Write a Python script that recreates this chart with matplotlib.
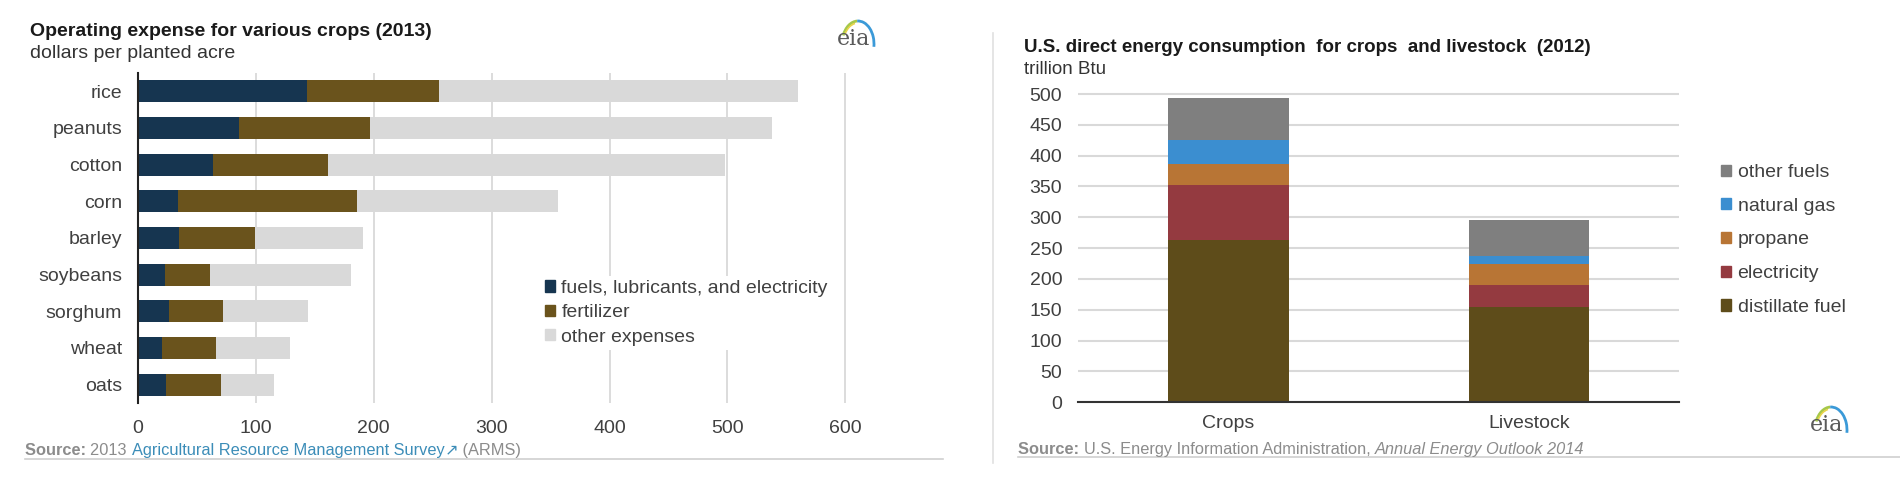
# EIA: operating expense por cultivo y consumo directo de energía

import numpy as np
import matplotlib
matplotlib.use('Agg')
import matplotlib.pyplot as plt
from matplotlib.patches import Patch, Arc
from matplotlib.lines import Line2D

plt.rcParams['font.family'] = ['Liberation Sans', 'DejaVu Sans']

# Datos panel izquierdo (dólares por acre sembrado, 2013)
crops = ['rice', 'peanuts', 'cotton', 'corn', 'barley', 'soybeans', 'sorghum', 'wheat', 'oats']
fuels = [143, 86, 64, 34, 35, 23, 26, 20, 24]
fertilizer = [112, 111, 97, 152, 64, 38, 46, 46, 46]
other_exp = [305, 341, 337, 170, 92, 120, 72, 63, 45]
left_series = ['fuels, lubricants, and electricity', 'fertilizer', 'other expenses']
x_ticks = [0, 100, 200, 300, 400, 500, 600]

# Datos panel derecho (trillion Btu, 2012)
sectors = ['Crops', 'Livestock']
distillate = [263, 154]
electricity = [90, 37]
propane = [33, 34]
natural_gas = [40, 12]
other_fuels = [68, 58]
right_series = ['distillate fuel', 'electricity', 'propane', 'natural gas', 'other fuels']
y_ticks = [0, 50, 100, 150, 200, 250, 300, 350, 400, 450, 500]

W, H = 1900, 498
fig = plt.figure(figsize=(19, 4.98), dpi=100)
fig.patch.set_facecolor('white')

def fx(x):
    return x / W

def fy(y):
    return 1 - y / H

txt = '#404040'
fs = 14

# ---------------- panel izquierdo ----------------
ax1 = fig.add_axes([fx(138), fy(403), 707.3 * 605 / 600 / W, 330 / H])
c_left = ['#163550', '#6a531c', '#d9d9d9']
ypos = np.arange(len(crops))
left = np.zeros(len(crops))
for vals, col, lab in zip([fuels, fertilizer, other_exp], c_left, left_series):
    ax1.barh(ypos, vals, left=left, height=0.6, color=col, label=lab, zorder=2)
    left = left + np.array(vals)
ax1.set_xlim(0, 605)
ax1.set_ylim(len(crops) - 0.5, -0.5)
ax1.set_yticks(ypos)
ax1.set_yticklabels(crops)
ax1.set_xticks(x_ticks)
ax1.grid(axis='x', color='#d9d9d9', lw=1.3, zorder=0)
ax1.tick_params(length=0, labelsize=fs, colors=txt)
ax1.tick_params(axis='y', pad=11.5)
ax1.tick_params(axis='x', pad=12)
for s in ['top', 'right', 'bottom']:
    ax1.spines[s].set_visible(False)
ax1.spines['left'].set_color('#222222')
ax1.spines['left'].set_linewidth(1.5)
h1 = [Patch(color=c) for c in c_left]
leg1 = ax1.legend(h1, left_series, loc='upper left', bbox_to_anchor=(fx(541), fy(276)),
                  bbox_transform=fig.transFigure, frameon=True, fontsize=fs,
                  handlelength=0.5, handleheight=0.5, handletextpad=0.35,
                  labelspacing=0.38, borderpad=0.2, borderaxespad=0)
leg1.get_frame().set_edgecolor('none')
leg1.get_frame().set_facecolor('white')
leg1.get_frame().set_alpha(1)
for t in leg1.get_texts():
    t.set_color(txt)

fig.text(fx(30), fy(31), 'Operating expense for various crops (2013)', fontsize=14,
         fontweight='bold', color='#1a1a1a', va='center')
fig.text(fx(30), fy(54), 'dollars per planted acre', fontsize=14, color='#333333', va='center')

# ---------------- panel derecho ----------------
ax2 = fig.add_axes([fx(1078.3), fy(402.3), 601 / W, 308.3 * 505 / 500 / H])
c_right = ['#5e4c1a', '#943a40', '#b87535', '#3b8ed0', '#7f7f7f']
xpos = np.arange(len(sectors))
bottom = np.zeros(len(sectors))
for vals, col, lab in zip([distillate, electricity, propane, natural_gas, other_fuels], c_right, right_series):
    ax2.bar(xpos, vals, bottom=bottom, width=0.4, color=col, label=lab, zorder=2)
    bottom = bottom + np.array(vals)
ax2.set_xlim(-0.5, 1.5)
ax2.set_ylim(0, 505)
ax2.set_yticks(y_ticks)
ax2.set_xticks(xpos)
ax2.set_xticklabels(sectors)
ax2.grid(axis='y', color='#d9d9d9', lw=1.5, zorder=0)
ax2.tick_params(length=0, labelsize=fs, colors=txt)
ax2.tick_params(axis='y', pad=11.5)
ax2.tick_params(axis='x', pad=9)
for s in ['top', 'right', 'left']:
    ax2.spines[s].set_visible(False)
ax2.spines['bottom'].set_color('#333333')
ax2.spines['bottom'].set_linewidth(1.5)
ax2.spines['bottom'].set_zorder(3)
h2 = [Patch(color=c) for c in c_right][::-1]
leg2 = ax2.legend(h2, right_series[::-1], loc='upper left', bbox_to_anchor=(fx(1721), fy(164)),
                  bbox_transform=fig.transFigure, frameon=False, fontsize=fs,
                  handlelength=0.5, handleheight=0.5, handletextpad=0.35,
                  labelspacing=0.86, borderpad=0, borderaxespad=0)
for t in leg2.get_texts():
    t.set_color(txt)

fig.text(fx(1024), fy(48), 'U.S. direct energy consumption  for crops  and livestock  (2012)',
         fontsize=13.5, fontweight='bold', color='#1a1a1a', va='center')
fig.text(fx(1024), fy(70), 'trillion Btu', fontsize=13.5, color='#333333', va='center')

# ---------------- fuentes ----------------
renderer = fig.canvas.get_renderer()

def runs(x, y, parts):
    for s, kw in parts:
        t = fig.text(x, y, s, fontsize=11.8, va='center', **kw)
        x += t.get_window_extent(renderer).width / W

gray = '#8c8c8c'
blue = '#3c8db8'
runs(fx(25), fy(450), [('Source: ', dict(color=gray, fontweight='bold')),
                       ('2013 ', dict(color=gray)),
                       ('Agricultural Resource Management Survey', dict(color=blue)),
                       ('\u2197', dict(color=blue, family='DejaVu Sans')),
                       (' (ARMS)', dict(color=gray))])
runs(fx(1018), fy(449), [('Source: ', dict(color=gray, fontweight='bold')),
                         ('U.S. Energy Information Administration, ', dict(color=gray)),
                         ('Annual Energy Outlook 2014', dict(color=gray, style='italic'))])

fig.add_artist(Line2D([fx(25), fx(943)], [fy(459), fy(459)], transform=fig.transFigure,
                      color='#d0d0d0', lw=1.2))
fig.add_artist(Line2D([fx(1018), fx(1900)], [fy(457), fy(457)], transform=fig.transFigure,
                      color='#d0d0d0', lw=1.2))
fig.add_artist(Line2D([fx(993), fx(993)], [fy(33), fy(463)], transform=fig.transFigure,
                      color='#e0e0e0', lw=1.2))

# ---------------- logos eia ----------------
def eia_logo(x0, y0):
    axl = fig.add_axes([fx(x0), fy(y0 + 36), 48 / W, 36 / H])
    axl.set_xlim(0, 48)
    axl.set_ylim(0, 36)
    axl.axis('off')
    axl.text(22, 11, 'eia', family='DejaVu Serif', fontsize=16, color='#5a5a5a',
             ha='center', va='center')
    axl.add_patch(Arc((26, 6), 32, 46, theta1=92, theta2=150, color='#a6c84a', lw=2))
    axl.add_patch(Arc((26, 5), 30, 44, theta1=98, theta2=140, color='#e8d44a', lw=1.2))
    axl.add_patch(Arc((26, 6), 32, 46, theta1=-10, theta2=92, color='#3b9ad8', lw=2))

eia_logo(832, 14)
eia_logo(1805, 400)

fig.savefig('out.png', dpi=100, facecolor='white')
